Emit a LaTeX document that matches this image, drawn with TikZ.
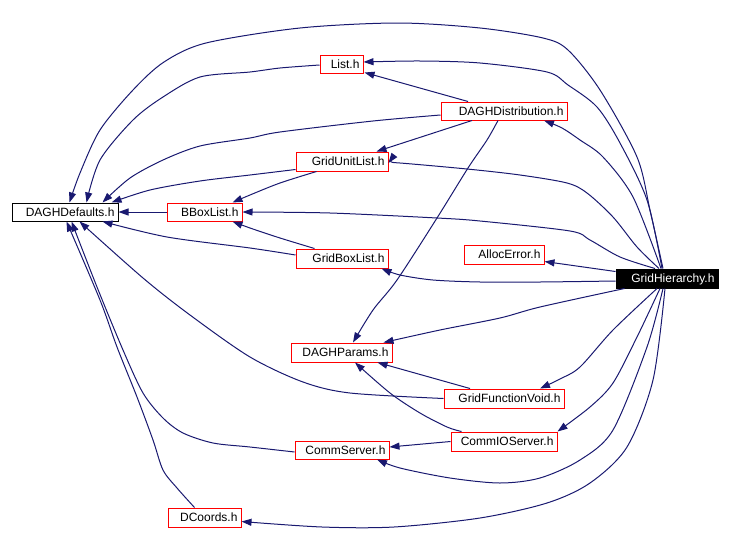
\documentclass[tikz,border=0pt]{standalone}
\usepackage{fontspec}
\setmainfont{Liberation Sans}
\usetikzlibrary{arrows.meta,calc}
\definecolor{edgeblue}{HTML}{191970}
\begin{document}
\begin{tikzpicture}[x=1pt,y=-1pt,
  hdr/.style={draw=red, line width=1pt, fill=white, inner xsep=3.5pt, inner ysep=0pt,
    minimum height=19pt, text height=8.6pt, text depth=0pt, align=right,
    font=\fontsize{12}{14}\selectfont},
  blackhdr/.style={hdr, draw=black},
  mainhdr/.style={hdr, draw=black, fill=black, text=white},
  edge/.style={draw=edgeblue, line width=1pt, -{Triangle[length=10pt,width=7pt]}},
  smoothedge/.style={edge}
]
\useasboundingbox (0,0) rectangle (730,554);
% nodes
\node[blackhdr, text width=99pt, minimum height=18pt] (dd) at (65,212) {DAGHDefaults.h};
\node[hdr, text width=68pt, minimum height=18pt] (bb) at (204.5,212) {BBoxList.h};
\node[hdr, text width=36pt, minimum height=18pt] (list) at (341.5,64) {List.h};
\node[hdr, text width=119pt, minimum height=18pt] (dist) at (504,111) {DAGHDistribution.h};
\node[hdr, text width=85pt] (gul) at (342,161.5) {GridUnitList.h};
\node[hdr, text width=85pt] (gbl) at (342,258.5) {GridBoxList.h};
\node[hdr, text width=73pt] (ae) at (504,254.5) {AllocError.h};
\node[mainhdr, text width=95pt] (gh) at (667,278.5) {GridHierarchy.h};
\node[hdr, text width=94pt] (dp) at (341.5,352.5) {DAGHParams.h};
\node[hdr, text width=113pt] (gfv) at (504,398.5) {GridFunctionVoid.h};
\node[hdr, text width=99pt] (cio) at (504,441.5) {CommIOServer.h};
\node[hdr, text width=87pt, minimum height=18pt] (cs) at (342,450) {CommServer.h};
\node[hdr, text width=66pt] (dc) at (204.5,517.5) {DCoords.h};
% edges from GridHierarchy.h
\draw[edge] plot[smooth] coordinates {($(gh.north)+(-4,0)$) (650,210) (637,157) (600,90) (568,50) (543,38) (480,28) (398,23) (300,28) (206,43) (164,62) (133,90) (100,130) (80,173) ($(dd.north west)+(58,0)$)};
\draw[edge] plot[smooth] coordinates {($(gh.north)+(-5,0)$) (647,200) (620,143) (597,107) (568,85) (547,72) (480,63) (420,61) ($(list.east)+(0,-2)$)};
\draw[edge] plot[smooth] coordinates {($(gh.north)+(-6,0)$) (633,197) (603,157) (580,140) (562,128) ($(dist.south)+(40,0)$)};
\draw[edge] plot[smooth] coordinates {($(gh.north)+(-8,0)$) (637,247) (613,217) (587,193) (567,183) (520,175) (467,169) (400,163) ($(gul.east)+(0,1.5)$)};
\draw[edge] plot[smooth] coordinates {($(gh.north)+(-12,0)$) (620,257) (590,240) (570,231) (480,221) (437,218) (330,213) (bb.east)};
\draw[edge] ($(gh.north west)+(0,3)$) -- ($(ae.east)+(0,7)$);
\draw[edge] plot[smooth] coordinates {($(gh.west)+(0,2.5)$) (540,282) (480,282) (433,280) (400,275) ($(gbl.south west)+(86,0)$)};
\draw[edge] plot[smooth] coordinates {($(gh.south west)+(9,0)$) (540,307) (500,318) (440,330) ($(dp.north east)+(-9,0)$)};
\draw[edge] plot[smooth] coordinates {($(gh.south)+(-10,0)$) (613,330) (580,367) (560,379) ($(gfv.north)+(36,0)$)};
\draw[edge] plot[smooth] coordinates {($(gh.south)+(-7,0)$) (637,337) (613,383) (590,407) (cio.north east)};
\draw[edge] plot[smooth] coordinates {($(gh.south)+(-4,0)$) (647,347) (613,430) (580,460) (540,478) (500,483) (450,478) (400,468) ($(cs.south)+(35,0)$)};
\draw[edge] plot[smooth] coordinates {($(gh.south)+(-2,0)$) (653,380) (627,447) (590,483) (547,503) (480,518) (394,527) (322,527) ($(dc.east)+(0,4)$)};
% edges to DAGHDefaults.h
\draw[edge] plot[smooth] coordinates {($(list.west)+(0,1)$) (280,68) (250,72) (200,77) (163,97) (133,120) (100,160) ($(dd.north west)+(75,0)$)};
\draw[edge] plot[smooth] coordinates {($(dist.west)+(0,4)$) (373,121) (280,132) (250,138) (200,146) (163,160) (130,178) ($(dd.north west)+(91,0)$)};
\draw[edge] plot[smooth] coordinates {($(gul.south west)+(0,-2)$) (250,175) (200,181) (150,190) ($(dd.north west)+(100,0)$)};
\draw[edge] plot[smooth] coordinates {($(gul.south west)+(21,0)$) (280,183) (250,195) ($(bb.north west)+(66,0)$)};
\draw[edge] (bb.west) -- (dd.east);
\draw[edge] plot[smooth] coordinates {($(gbl.north west)+(19,0)$) (280,238) (250,228) ($(bb.south west)+(66,0)$)};
\draw[edge] plot[smooth] coordinates {($(gbl.west)+(0,-3.5)$) (250,248) (167,237) ($(dd.south west)+(91,0)$)};
\draw[edge] plot[smooth] coordinates {(gfv.west) (350,393) (303,382) (250,357) (190,315) (143,278) ($(dd.south west)+(68,0)$)};
\draw[edge] plot[smooth] coordinates {($(cs.west)+(0,2)$) (250,447) (213,443) (183,433) (163,418) (143,393) (123,350) (97,287) ($(dd.south west)+(60,0)$)};
\draw[edge] plot[smooth] coordinates {($(dc.north west)+(27,0)$) (177,488) (163,470) (153,440) (137,397) (117,347) (100,300) ($(dd.south west)+(55,0)$)};
% other edges
\draw[edge] ($(dist.north)+(-36,0)$) -- ($(list.south east)+(1,-1)$);
\draw[edge] ($(dist.south)+(-32,0)$) -- ($(gul.north west)+(81,0)$);
\draw[edge] plot[smooth] coordinates {($(dist.south)+(-6,0)$) (487,140) (468,168) (437,218) (397,280) (373,310) ($(dp.north)+(11.5,0)$)};
\draw[edge] ($(gfv.north)+(-34,0)$) -- ($(dp.south east)+(-15,0)$);
\draw[edge] plot[smooth] coordinates {($(cio.north west)+(11,0)$) (447,427) (420,413) (390,393) ($(dp.south)+(13.5,0)$)};
\draw[edge] (cio.west) -- ($(cs.east)+(0,-3)$);
\end{tikzpicture}
\end{document}
